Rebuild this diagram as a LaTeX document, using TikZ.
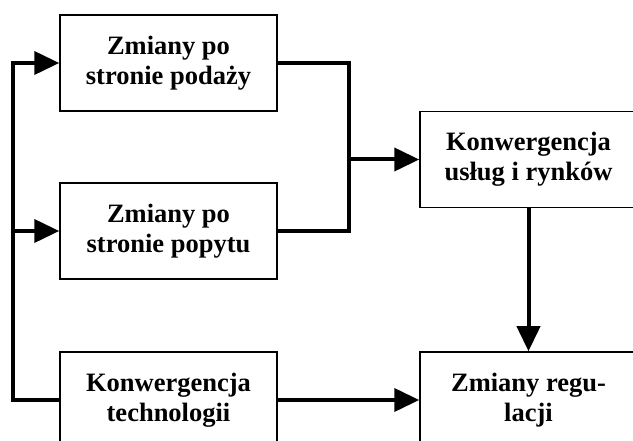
\documentclass[tikz,border=0pt]{standalone}
\usepackage{fontspec}
\setmainfont{Liberation Serif}
\usetikzlibrary{arrows.meta}

\begin{document}
\begin{tikzpicture}[x=1pt, y=-1pt,
blocknode/.style={draw, line width=1.5pt, minimum width=217pt, minimum height=96pt, inner sep=0pt,
  align=center, font=\bfseries\fontsize{26.5}{30}\selectfont},
link/.style={line width=4pt},
arrowlink/.style={link, -{Triangle[length=25pt, width=23pt]}}]
    \useasboundingbox (0,0) rectangle (633,441);
    % left column
    \node [blocknode] (supply) at (168.5,63)  {Zmiany po\\stronie podaży};
    \node [blocknode] (demand) at (168.5,231) {Zmiany po\\stronie popytu};
    \node [blocknode] (tech)   at (168.5,400) {Konwergencja\\technologii};
    % right column
    \node [blocknode] (conv) at (528.5,159.5) {Konwergencja\\usług i rynków};
    \node [blocknode] (reg)  at (528.5,400)   {Zmiany regu-\\lacji};
    \coordinate (lbus) at (13,0);
    \coordinate (rbus) at (349,0);
    \draw [arrowlink] (tech.west) -| (lbus |- supply.west) -- (supply.west);
    \draw [arrowlink] (lbus |- demand.west) -- (demand.west);
    \draw [link] (supply.east) -| (rbus |- demand.east) -- (demand.east);
    \draw [arrowlink] (rbus |- conv.west) -- (conv.west);
    \draw [arrowlink] (conv.south) -- (reg.north);
    \draw [arrowlink] (tech.east) -- (reg.west);
\end{tikzpicture}
\end{document}
